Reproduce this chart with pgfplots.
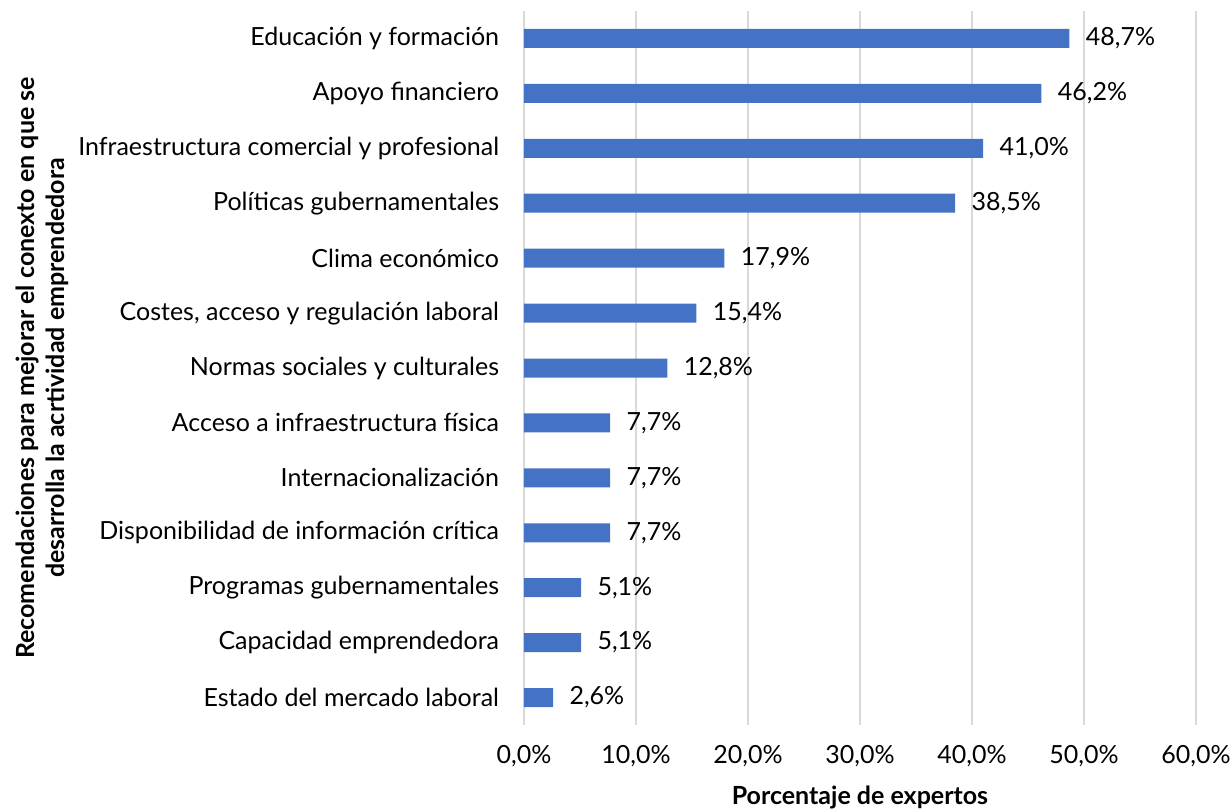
\documentclass[border=0pt]{standalone}
\usepackage{pgfplots}
\pgfplotsset{compat=1.18}
\usepackage{fontspec}
\setmainfont{Lato}
\definecolor{barblue}{HTML}{4472C4}
\definecolor{gridgray}{HTML}{D9D9D9}

\begin{document}
\fontsize{12.5pt}{15pt}\selectfont
\begin{tikzpicture}
\begin{axis}[
  scale only axis, width=336pt, height=357pt,
  xbar, bar width=9.5pt,
  xmin=0, xmax=60, ymin=-0.5, ymax=12.5, y dir=reverse,
  xtick={0,10,...,60}, ytick={0,...,12},
  yticklabels={Educación y formación,Apoyo financiero,Infraestructura comercial y profesional,Políticas gubernamentales,Clima económico,{Costes, acceso y regulación laboral},Normas sociales y culturales,Acceso a infraestructura física,Internacionalización,Disponibilidad de información crítica,Programas gubernamentales,Capacidad emprendedora,Estado del mercado laboral},
  /pgf/number format/assume math mode=true,
  xticklabel={\pgfmathprintnumber[fixed,fixed zerofill,precision=1,use comma]{\tick}\%},
  xmajorgrids, grid style={gridgray, line width=1pt},
  axis line style={draw=none}, tick style={draw=none},
  yticklabel style={inner sep=0pt, xshift=-8pt},
  xticklabel style={inner sep=0pt, yshift=-10pt},
  xlabel={Porcentaje de expertos},
  xlabel style={font=\bfseries, at={(axis description cs:0.5,0)}, anchor=center, yshift=-36pt},
  ylabel={Recomendaciones para mejorar el conexto en que se\\desarrolla la acrtividad emprendedora},
  ylabel style={font=\bfseries, align=center, at={(axis description cs:-0.7173,0.5)}, anchor=center},
  point meta=x,
  nodes near coords={\pgfmathprintnumber[fixed,fixed zerofill,precision=1,use comma]{\pgfplotspointmeta}\%},
  nodes near coords style={inner sep=0pt, xshift=8pt, anchor=west},
]
\addplot[fill=barblue, draw=none] coordinates {
  (48.7,0) (46.2,1) (41.0,2) (38.5,3) (17.9,4) (15.4,5) (12.8,6)
  (7.7,7) (7.7,8) (7.7,9) (5.1,10) (5.1,11) (2.6,12)};
\end{axis}
\pgfresetboundingbox
\path[use as bounding box] (-262pt,-42pt) rectangle (353.5pt,362.5pt);
\end{tikzpicture}
\end{document}
